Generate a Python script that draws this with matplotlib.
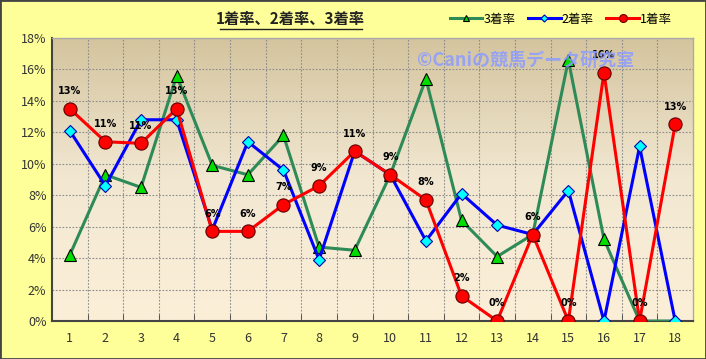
import numpy as np
import matplotlib
matplotlib.use("Agg")
import matplotlib.pyplot as plt
from matplotlib.colors import LinearSegmentedColormap
from matplotlib.patches import Rectangle

plt.rcParams['font.family'] = ['Noto Sans CJK JP', 'DejaVu Sans']

categories = list(range(1, 19))
win_rate = [13.5, 11.4, 11.3, 13.5, 5.7, 5.7, 7.4, 8.6, 10.8, 9.3, 7.7, 1.6, 0.0, 5.5, 0.0, 15.8, 0.0, 12.5]
second_rate = [12.1, 8.6, 12.8, 12.8, 5.8, 11.4, 9.6, 3.9, 10.8, 9.3, 5.1, 8.1, 6.1, 5.5, 8.3, 0.0, 11.1, 0.0]
third_rate = [4.2, 9.3, 8.5, 15.6, 9.9, 9.3, 11.8, 4.7, 4.5, 9.3, 15.4, 6.4, 4.1, 5.5, 16.6, 5.2, 0.0, 0.0]
win_labels = ["13%", "11%", "11%", "13%", "6%", "6%", "7%", "9%", "11%", "9%", "8%", "2%", "0%", "6%", "0%", "16%", "0%", "13%"]
y_ticks = [0, 2, 4, 6, 8, 10, 12, 14, 16, 18]

fig = plt.figure(figsize=(7.06, 3.59), dpi=100, facecolor='#FFFF99')
W, H = 706, 359
ax = fig.add_axes([52 / W, 1 - 321 / H, (693 - 52) / W, (321 - 38) / H])

# gradient background
cmap = LinearSegmentedColormap.from_list('bg', ['#FCEFD8', '#F2E8D2', '#D4C49E'])
grad = np.linspace(0, 1, 256).reshape(-1, 1)
ax.imshow(grad, aspect='auto', cmap=cmap, origin='lower',
          extent=[0.5, 18.5, 0, 18], zorder=0)

ax.set_xlim(0.5, 18.5)
ax.set_ylim(0, 18)

# grid
for xb in np.arange(1.5, 18.5, 1):
    ax.axvline(xb, color='#8C8C8C', lw=0.8, ls=(0, (1.5, 1.5)), zorder=1)
for yv in y_ticks[1:-1]:
    ax.axhline(yv, color='#8C8C8C', lw=0.8, ls=(0, (1.5, 1.5)), zorder=1)

ax.plot(categories, third_rate, color='#2E8B57', lw=2.2, marker='^', ms=8,
        mfc='#00DD00', mec='black', mew=0.8, label='3着率', zorder=3)
ax.plot(categories, second_rate, color='#0000FF', lw=2.2, marker='D', ms=6,
        mfc='#00FFFF', mec='#0000AA', mew=0.8, label='2着率', zorder=4)
ax.plot(categories, win_rate, color='#FF0000', lw=2.2, marker='o', ms=9.5,
        mfc='#FF0000', mec='#600000', mew=0.8, label='1着率', zorder=5)

for x, y, t in zip(categories, win_rate, win_labels):
    ax.annotate(t, (x, y), xytext=(0, 9), textcoords='offset points',
                ha='center', va='bottom', fontsize=7, fontweight='bold',
                color='black', zorder=6, family=['DejaVu Sans'])

ax.set_yticks(y_ticks)
ax.set_yticklabels([f"{v}%" for v in y_ticks], fontsize=9, color='#333333')
ax.set_xticks(categories)
ax.set_xticklabels([str(c) for c in categories], fontsize=9, color='#333333')
ax.tick_params(axis='x', length=0, pad=8)
ax.tick_params(axis='y', length=0, pad=4)
ax.set_xticks(np.arange(0.5, 19, 1), minor=True)
ax.tick_params(axis='x', which='minor', length=5, direction='in', color='#444444')

for side in ['top', 'right']:
    ax.spines[side].set_color('#AAAAAA')
    ax.spines[side].set_linewidth(1)
for side in ['left', 'bottom']:
    ax.spines[side].set_color('#444444')
    ax.spines[side].set_linewidth(1.5)

# watermark
ax.text(13.8, 16.6, '©Caniの競馬データ研究室', fontsize=13, fontweight='bold',
        color='#8C9CFF', alpha=0.85, ha='center', va='center', zorder=7)

# title
fig.text(290 / W, 1 - 19 / H, '1着率、2着率、3着率', fontsize=11, fontweight='bold',
         ha='center', va='center', color='#222222')
fig.add_artist(plt.Line2D([220 / W, 362 / W], [1 - 29 / H, 1 - 29 / H],
                          color='#222222', lw=1))

# legend
handles, labels = ax.get_legend_handles_labels()
leg = fig.legend(handles, labels, loc='center', bbox_to_anchor=(561 / W, 1 - 19 / H),
                 ncol=3, frameon=False, fontsize=9, handlelength=2.6,
                 columnspacing=1.0, handletextpad=0.1, markerscale=0.6)

# figure border
fig.add_artist(Rectangle((0, 0), 1, 1, transform=fig.transFigure, fill=False,
                         edgecolor='#444444', lw=2))

fig.savefig('out.png', dpi=100, facecolor=fig.get_facecolor())
